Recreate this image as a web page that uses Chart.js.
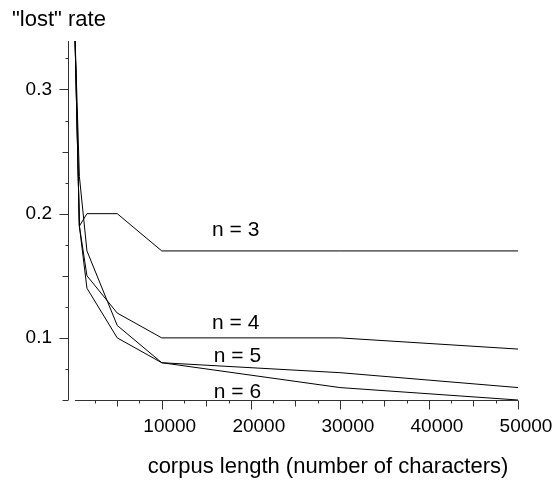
<!DOCTYPE html>
<html>
<head>
<meta charset="utf-8">
<script src="https://cdn.jsdelivr.net/npm/chart.js@4.4.0/dist/chart.umd.min.js"></script>
<style>
  html, body { margin: 0; padding: 0; background: #fff; }
</style>
</head>
<body>
<canvas id="chart" width="556" height="481"></canvas>
<script>
// corpus length (number of characters)
const corpusLength = [250, 750, 1600, 5000, 10000, 30000, 50000];
// "lost" rate per n-gram size
const lostN3 = [0.345, 0.19, 0.20, 0.20, 0.17, 0.17, 0.17];
const lostN4 = [0.345, 0.19, 0.15, 0.12, 0.10, 0.10, 0.091];
const lostN5 = [0.345, 0.23, 0.17, 0.11, 0.08, 0.072, 0.06];
const lostN6 = [0.345, 0.19, 0.14, 0.10, 0.08, 0.06, 0.05];
const seriesNames = ['n = 3', 'n = 4', 'n = 5', 'n = 6'];
const xTickValues = [10000, 20000, 30000, 40000, 50000];
const yTickValues = [0.1, 0.2, 0.3];

const FONT = '"Liberation Sans", Arial, sans-serif';

function toPoints(values) {
    return corpusLength.map((x, i) => ({ x: x, y: values[i] }));
}

// Maple style axes: short tick marks, y axis detached from x axis
const mapleAxes = {
    id: 'mapleAxes',
    afterDraw(chart) {
        const { ctx, chartArea, scales } = chart;
        const xs = scales.x, ys = scales.y;
        ctx.save();
        ctx.strokeStyle = '#333';
        ctx.lineWidth = 1;
        ctx.beginPath();

        const ax = Math.round(chartArea.left) + 0.5;
        ctx.moveTo(ax, chartArea.top);
        ctx.lineTo(ax, chartArea.bottom);
        for (let k = 2; k <= 13; k++) {
            const py = Math.round(ys.getPixelForValue(k * 0.025)) + 0.5;
            const len = k % 4 === 0 ? 9 : (k % 2 === 0 ? 6 : 3);
            ctx.moveTo(ax - len, py);
            ctx.lineTo(ax, py);
        }

        const by = Math.round(chartArea.bottom) + 0.5;
        ctx.moveTo(xs.getPixelForValue(corpusLength[0]), by);
        ctx.lineTo(xs.getPixelForValue(50000), by);
        for (let k = 1; k <= 20; k++) {
            const px = Math.round(xs.getPixelForValue(k * 2500)) + 0.5;
            const len = k % 4 === 0 ? 9 : (k % 2 === 0 ? 6 : 3);
            ctx.moveTo(px, by);
            ctx.lineTo(px, by + len);
        }
        ctx.stroke();

        ctx.fillStyle = '#000';
        ctx.font = '22px ' + FONT;
        ctx.textBaseline = 'middle';
        ctx.textAlign = 'left';
        ctx.fillText('"lost" rate', 12, 20);

        ctx.textAlign = 'center';
        ctx.fillText('corpus length (number of characters)', 328, 467);

        // curve labels
        ctx.font = '21px ' + FONT;
        const labelSpots = [[18300, 0.1866], [18300, 0.112], [18500, 0.0852], [18500, 0.0562]];
        seriesNames.forEach((name, i) => {
            ctx.fillText(name, xs.getPixelForValue(labelSpots[i][0]), ys.getPixelForValue(labelSpots[i][1]));
        });
        ctx.restore();
    }
};

const ctx = document.getElementById('chart').getContext('2d');
const chart = new Chart(ctx, {
    type: 'line',
    data: {
        datasets: [lostN3, lostN4, lostN5, lostN6].map((values, i) => ({
            label: seriesNames[i],
            data: toPoints(values),
            borderColor: '#000',
            borderWidth: 1,
            pointRadius: 0,
            tension: 0,
            fill: false
        }))
    },
    options: {
        responsive: false,
        animation: false,
        devicePixelRatio: 1,
        layout: { padding: { top: 41, right: 38, left: 0, bottom: 0 } },
        plugins: {
            legend: { display: false },
            tooltip: { enabled: false },
            title: { display: false }
        },
        scales: {
            x: {
                type: 'linear',
                min: -528,
                max: 50000,
                grid: { display: false, drawTicks: false },
                border: { display: false },
                afterBuildTicks: scale => { scale.ticks = xTickValues.map(v => ({ value: v })); },
                afterFit: scale => {
                    scale.height = 81;
                    scale.paddingLeft = 0;
                    scale.paddingRight = 0;
                },
                ticks: {
                    color: '#000',
                    font: { family: FONT, size: 19 },
                    padding: 15,
                    labelOffset: 8,
                    maxRotation: 0,
                    autoSkip: false,
                    callback: v => String(v)
                }
            },
            y: {
                type: 'linear',
                min: 0.05,
                max: 0.339,
                grid: { display: false, drawTicks: false },
                border: { display: false },
                afterBuildTicks: scale => { scale.ticks = yTickValues.map(v => ({ value: v })); },
                afterFit: scale => {
                    scale.width = 68;
                    scale.paddingTop = 0;
                    scale.paddingBottom = 0;
                },
                ticks: {
                    color: '#000',
                    font: { family: FONT, size: 19 },
                    padding: 16,
                    autoSkip: false,
                    callback: v => v.toFixed(1)
                }
            }
        }
    },
    plugins: [mapleAxes]
});
</script>
</body>
</html>
